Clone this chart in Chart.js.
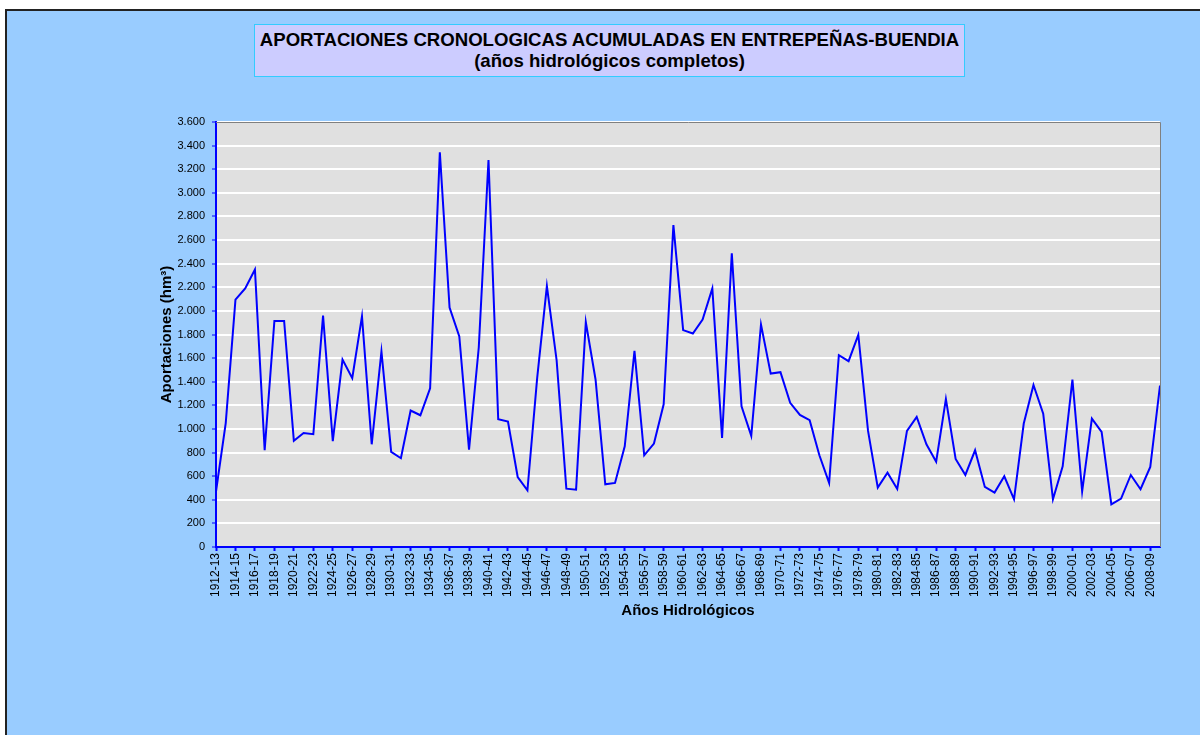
<!DOCTYPE html>
<html>
<head>
<meta charset="utf-8">
<script src="https://cdn.jsdelivr.net/npm/chart.js@4/dist/chart.umd.min.js"></script>
<style>
  html, body { margin: 0; padding: 0; background: #ffffff; }
  body { width: 1200px; height: 735px; position: relative; overflow: hidden; font-family: Arial, "Liberation Sans", sans-serif; }
  #frame { position: absolute; left: 5px; top: 9px; width: 1300px; height: 900px; background: #99CCFF; border: 2px solid #222222; }
  #chartCanvas { position: absolute; left: 0; top: 0; }
  #titleBox {
    position: absolute; left: 254px; top: 24px; width: 709px; height: 47px;
    background: #CCCCFF; border: 1px solid #33CCFF;
    text-align: center; font-weight: bold; font-size: 18.6px; line-height: 21px; color: #000;
    padding-top: 4px; box-sizing: content-box; white-space: nowrap;
  }
</style>
</head>
<body>
<div id="frame"></div>
<canvas id="chartCanvas" width="1200" height="735"></canvas>
<div id="titleBox">APORTACIONES CRONOLOGICAS ACUMULADAS EN ENTREPEÑAS-BUENDIA<br>(años hidrológicos completos)</div>
<script>
// Hydrological years 1912-13 .. 2009-10
const years = [];
for (let y = 1912; y <= 2009; y++) {
  years.push(y + '-' + String((y + 1) % 100).padStart(2, '0'));
}

// Aportaciones (hm3)
const aportaciones = [
  470, 1050, 2095, 2190, 2350, 820, 1915, 1915, 900, 965,
  955, 1960, 896, 1588, 1430, 1953, 870, 1656, 805, 752,
  1156, 1116, 1345, 3343, 2029, 1783, 825, 1690, 3278, 1082,
  1062, 593, 480, 1430, 2210, 1582, 494, 486, 1905, 1419,
  531, 543, 853, 1662, 777, 876, 1209, 2727, 1837, 1808,
  1927, 2190, 924, 2487, 1192, 941, 1885, 1469, 1481, 1221,
  1119, 1074, 777, 543, 1625, 1574, 1797, 983, 503, 630,
  492, 983, 1102, 870, 723, 1252, 746, 610, 819, 509,
  461, 599, 404, 1046, 1373, 1130, 404, 684, 1418, 472,
  1088, 975, 362, 410, 610, 489, 678, 1368
];

const yTicksMax = 3600;
const yTicksStep = 200;

const fontFamily = 'Arial, "Liberation Sans", sans-serif';

const formatThousands = (v) => String(v).replace(/\B(?=(\d{3})+(?!\d))/g, '.');

const plotBackground = {
  id: 'plotBackground',
  beforeDraw(chart) {
    const { ctx, chartArea: a } = chart;
    ctx.save();
    ctx.fillStyle = '#E0E0E0';
    ctx.fillRect(a.left, a.top, a.right - a.left, a.bottom - a.top);
    ctx.restore();
  },
  afterDraw(chart) {
    const { ctx, chartArea: a } = chart;
    ctx.save();
    ctx.strokeStyle = '#808080';
    ctx.lineWidth = 1;
    ctx.beginPath();
    ctx.moveTo(a.left, a.top + 0.5);
    ctx.lineTo(a.right + 0.5, a.top + 0.5);
    ctx.lineTo(a.right + 0.5, a.bottom);
    ctx.stroke();
    ctx.restore();
  },
};

const ctx = document.getElementById('chartCanvas');

new Chart(ctx, {
  type: 'line',
  data: {
    labels: years,
    datasets: [
      {
        label: 'Aportaciones',
        data: aportaciones,
        borderColor: '#0000FF',
        borderWidth: 2,
        pointRadius: 0,
        tension: 0,
        fill: false,
      },
    ],
  },
  options: {
    responsive: false,
    animation: false,
    layout: {
      padding: { top: 122, right: 40, bottom: 111, left: 156 },
    },
    plugins: {
      legend: { display: false },
      title: { display: false },
      tooltip: { enabled: false },
    },
    scales: {
      x: {
        offset: false,
        afterFit: (scale) => { scale.height = 77; },
        grid: {
          drawOnChartArea: false,
          drawTicks: true,
          tickLength: 4,
          tickWidth: 2,
          tickColor: (c) => (c.index % 2 === 0 ? '#0000FF' : 'rgba(0,0,0,0)'),
        },
        border: { color: '#0000FF', width: 2 },
        ticks: {
          autoSkip: false,
          maxRotation: 90,
          minRotation: 90,
          padding: 2,
          color: '#000000',
          font: { family: fontFamily, size: 12 },
          callback: (val, i) => (i % 2 === 0 ? years[i] : ''),
        },
        title: {
          display: true,
          text: 'Años Hidrológicos',
          color: '#000000',
          font: { family: fontFamily, size: 15, weight: 'bold' },
          padding: { top: 0, bottom: 4 },
        },
      },
      y: {
        min: 0,
        max: yTicksMax,
        afterFit: (scale) => { scale.width = 60; },
        grid: {
          color: '#FFFFFF',
          lineWidth: 2,
          drawTicks: true,
          tickLength: 4,
          tickWidth: 1,
          tickColor: '#0000FF',
        },
        border: { color: '#0000FF', width: 2 },
        ticks: {
          stepSize: yTicksStep,
          padding: 7,
          color: '#000000',
          font: { family: fontFamily, size: 11 },
          callback: (v) => formatThousands(v),
        },
        title: {
          display: true,
          text: 'Aportaciones (hm³)',
          color: '#000000',
          font: { family: fontFamily, size: 15, weight: 'bold' },
          padding: { top: 2, bottom: 0 },
        },
      },
    },
  },
  plugins: [plotBackground],
});
</script>
</body>
</html>
